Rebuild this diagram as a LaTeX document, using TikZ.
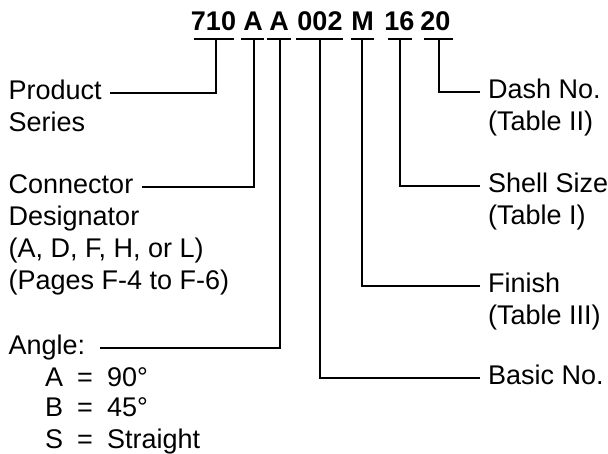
\documentclass[tikz,border=0pt]{standalone}
\usepackage{fontspec}
\setmainfont{Liberation Sans}
\begin{document}
\begin{tikzpicture}[x=1pt,y=-1pt,
  lbl/.style={font=\fontsize{27}{32}\selectfont, inner sep=0pt, text height=13pt, text depth=0pt, anchor=base west},
  code/.style={font=\fontsize{27}{32}\selectfont\bfseries, inner xsep=0pt, inner ysep=8pt, text depth=0pt, anchor=base},
  ln/.style={line width=2.6pt}]
\useasboundingbox (0,0) rectangle (608,454);
% part number groups
\node[code] (c1) at (213.5,31) {710};
\node[code] (c2) at (253,31) {A};
\node[code] (c3) at (279,31) {A};
\node[code] (c4) at (320,31) {002};
\node[code] (c5) at (362.5,31) {M};
\node[code] (c6) at (399.5,31) {16};
\node[code] (c7) at (435.5,31) {20};
% underlines
\draw[ln] ([xshift=-19.5pt]c1.south) -- ([xshift=20.5pt]c1.south);
\draw[ln] ([xshift=-12pt]c2.south) -- ([xshift=11pt]c2.south);
\draw[ln] ([xshift=-12pt]c3.south) -- ([xshift=12pt]c3.south);
\draw[ln] ([xshift=-24pt]c4.south) -- ([xshift=23pt]c4.south);
\draw[ln] ([xshift=-11.5pt]c5.south) -- ([xshift=11.5pt]c5.south);
\draw[ln] ([xshift=-11.5pt]c6.south) -- ([xshift=12.5pt]c6.south);
\draw[ln] ([xshift=-11.5pt]c7.south) -- ([xshift=17.5pt]c7.south);
% left labels
\node[lbl] (prod) at (8.5,99.5) {Product};
\node[lbl] (series) at (8.5,131.5) {Series};
\node[lbl] (conn) at (8.5,193.5) {Connector};
\node[lbl] (desig) at (8.5,225.5) {Designator};
\node[lbl] (desopt) at (8.5,257.5) {(A, D, F, H, or L)};
\node[lbl] (pages) at (8.5,289.5) {(Pages F-4 to F-6)};
\node[lbl] (angle) at (8.5,354.5) {Angle:};
\node[lbl] (angA) at (45,386) {\makebox[32pt][l]{A}\makebox[30pt][l]{=}90°};
\node[lbl] (angB) at (45,417) {\makebox[32pt][l]{B}\makebox[30pt][l]{=}45°};
\node[lbl] (angS) at (45,448) {\makebox[32pt][l]{S}\makebox[30pt][l]{=}Straight};
% right labels
\node[lbl] (dash) at (488,98.5) {Dash No.};
\node[lbl] (tab2) at (488,130.5) {(Table II)};
\node[lbl] (shell) at (488,192.5) {Shell Size};
\node[lbl] (tab1) at (488,224.5) {(Table I)};
\node[lbl] (finish) at (488,292.5) {Finish};
\node[lbl] (tab3) at (488,324.5) {(Table III)};
\node[lbl] (basic) at (488,384.5) {Basic No.};
% connectors
\draw[ln] ([xshift=2.5pt]c1.south) |- ([xshift=8.5pt]prod.east);
\draw[ln] ([xshift=1pt]c2.south) |- ([xshift=9pt]conn.east);
\draw[ln] ([xshift=1pt]c3.south) |- ([xshift=15pt]angle.east);
\draw[ln] (c4.south) |- ([xshift=-8pt]basic.west);
\draw[ln] ([xshift=-0.5pt]c5.south) |- ([xshift=-8pt]finish.west);
\draw[ln] ([xshift=0.5pt]c6.south) |- ([xshift=-8pt]shell.west);
\draw[ln] ([xshift=3.5pt]c7.south) |- ([xshift=-8pt]dash.west);
\end{tikzpicture}
\end{document}
